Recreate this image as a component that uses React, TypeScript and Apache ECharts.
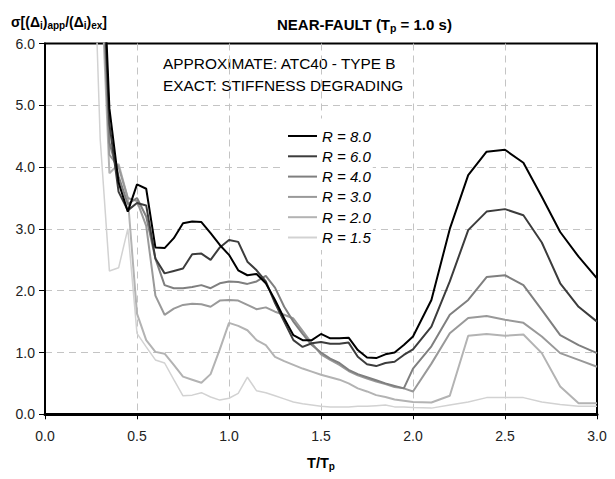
import React, { useEffect, useRef } from 'react';
import * as echarts from 'echarts';

// Period ratio T/Tp
const T = [0.25, 0.3, 0.35, 0.4, 0.45, 0.5, 0.55, 0.6, 0.65, 0.7, 0.75, 0.8, 0.85, 0.9, 0.95, 1.0, 1.05, 1.1, 1.15, 1.2, 1.25, 1.3, 1.35, 1.4, 1.45, 1.5, 1.55, 1.6, 1.65, 1.7, 1.75, 1.8, 1.85, 1.9, 1.95, 2.0, 2.1, 2.2, 2.3, 2.4, 2.5, 2.6, 2.7, 2.8, 2.9, 3.0];

const R80 = [14, 8.5, 4.95, 3.75, 3.28, 3.72, 3.65, 2.7, 2.69, 2.85, 3.09, 3.12, 3.11, 2.93, 2.74, 2.58, 2.33, 2.25, 2.27, 2.12, 1.85, 1.55, 1.28, 1.2, 1.2, 1.3, 1.23, 1.23, 1.24, 1.04, 0.92, 0.91, 0.97, 1.0, 1.12, 1.26, 1.85, 3.0, 3.87, 4.25, 4.28, 4.07, 3.52, 2.95, 2.55, 2.2];
const R60 = [14, 8.2, 4.7, 3.6, 3.3, 3.42, 3.38, 2.52, 2.28, 2.32, 2.36, 2.59, 2.6, 2.5, 2.7, 2.82, 2.79, 2.47, 2.33, 2.15, 1.8, 1.5, 1.2, 1.09, 1.15, 1.17, 1.14, 1.14, 1.16, 0.93, 0.81, 0.78, 0.83, 0.85, 0.96, 1.05, 1.42, 2.15, 2.98, 3.28, 3.32, 3.22, 2.78, 2.12, 1.74, 1.5];
const R40 = [13, 8, 4.4, 3.85, 3.4, 3.5, 3.2, 2.52, 2.09, 2.04, 2.04, 2.06, 2.09, 2.04, 2.12, 2.15, 2.14, 2.11, 2.15, 2.24, 2.05, 1.74, 1.5, 1.3, 1.12, 1.0, 0.9, 0.83, 0.72, 0.65, 0.6, 0.55, 0.5, 0.46, 0.42, 0.74, 1.1, 1.61, 1.85, 2.22, 2.25, 2.09, 1.69, 1.28, 1.12, 0.99];
const R30 = [12, 7.8, 4.2, 4.0, 3.5, 3.45, 3.05, 1.92, 1.61, 1.71, 1.77, 1.79, 1.78, 1.74, 1.84, 1.85, 1.84, 1.77, 1.7, 1.73, 1.66, 1.61, 1.55, 1.35, 1.15, 0.97, 0.88, 0.8, 0.7, 0.63, 0.58, 0.53, 0.49, 0.44, 0.42, 0.37, 0.82, 1.31, 1.56, 1.59, 1.53, 1.48, 1.26, 0.99, 0.88, 0.77];
const R20 = [11, 7.4, 3.9, 4.05, 3.5, 1.63, 1.2, 1.01, 0.98, 0.8, 0.61, 0.56, 0.51, 0.65, 1.05, 1.48, 1.43, 1.36, 1.2, 1.12, 0.93, 0.86, 0.8, 0.74, 0.69, 0.64, 0.6, 0.56, 0.5, 0.42, 0.37, 0.31, 0.28, 0.24, 0.22, 0.2, 0.19, 0.3, 1.27, 1.3, 1.27, 1.29, 0.99, 0.45, 0.18, 0.18];
const R15 = [9, 4.45, 2.32, 2.37, 3.0, 1.31, 1.09, 0.88, 0.83, 0.56, 0.3, 0.31, 0.35, 0.28, 0.23, 0.26, 0.34, 0.6, 0.38, 0.35, 0.3, 0.25, 0.2, 0.17, 0.15, 0.13, 0.12, 0.12, 0.12, 0.13, 0.13, 0.14, 0.15, 0.12, 0.12, 0.11, 0.1, 0.15, 0.2, 0.27, 0.27, 0.27, 0.2, 0.16, 0.13, 0.13];

const LEGEND_NAMES = ['R = 8.0', 'R = 6.0', 'R = 4.0', 'R = 3.0', 'R = 2.0', 'R = 1.5'];
const NOTE_LINES = ['APPROXIMATE: ATC40 - TYPE B', 'EXACT: STIFFNESS DEGRADING'];

const FONT = "'Liberation Sans', Arial, sans-serif";

export default function App() {
  const ref = useRef<HTMLDivElement>(null);

  useEffect(() => {
    document.body.style.margin = '0';
    const chart = echarts.init(ref.current!, null, { renderer: 'svg' });

    const defs = [
      { name: 'R = 1.5', values: R15, color: '#d2d2d2', width: 1.5 },
      { name: 'R = 2.0', values: R20, color: '#b3b3b3', width: 2 },
      { name: 'R = 3.0', values: R30, color: '#999999', width: 2 },
      { name: 'R = 4.0', values: R40, color: '#7f7f7f', width: 2 },
      { name: 'R = 6.0', values: R60, color: '#3c3c3c', width: 2 },
      { name: 'R = 8.0', values: R80, color: '#000000', width: 2 },
    ];

    const series = defs.map((d) => ({
      type: 'line',
      name: d.name,
      data: T.map((t, i) => [t, d.values[i]]),
      showSymbol: false,
      symbol: 'none',
      clip: true,
      color: d.color,
      itemStyle: { color: d.color },
      lineStyle: { color: d.color, width: d.width },
      emphasis: { disabled: true },
    }));

    const sub = { fontSize: 10, fontWeight: 'bold', fontFamily: FONT, lineHeight: 10, verticalAlign: 'bottom', fill: '#000', color: '#000' };
    const gridLine = { show: true, showMinLine: false, showMaxLine: false, lineStyle: { color: '#c4c4c4', width: 1, type: [7, 5] } };

    chart.setOption({
      animation: false,
      backgroundColor: '#ffffff',
      textStyle: { fontFamily: FONT },
      grid: { left: 45, top: 43.5, right: 18, bottom: 64.7, show: true, borderColor: '#000', borderWidth: 2, backgroundColor: 'transparent' },
      title: [
        {
          text: '{b|NEAR-FAULT (T}{s|p}{b| = 1.0 s)}',
          left: 277,
          top: 15,
          padding: 0,
          textStyle: {
            rich: {
              b: { fontSize: 15, fontWeight: 'bold', fontFamily: FONT, color: '#000', lineHeight: 18 },
              s: { ...sub, fontSize: 10.5 },
            },
          },
        },
        {
          text: '{b|σ[(Δ}{s|i}{b|)}{s|app}{b|/(Δ}{s|i}{b|)}{s|ex}{b|]}',
          left: 11,
          top: 13,
          padding: 0,
          textStyle: {
            rich: {
              b: { fontSize: 14, fontWeight: 'bold', fontFamily: FONT, color: '#000', lineHeight: 17 },
              s: { ...sub, fontSize: 10, lineHeight: 10 },
            },
          },
        },
      ],
      legend: {
        data: LEGEND_NAMES,
        orient: 'vertical',
        left: 283,
        top: 118.5,
        padding: [10, 2, 5, 5],
        backgroundColor: '#ffffff',
        icon: 'rect',
        itemWidth: 29,
        itemHeight: 2,
        itemGap: 5.3,
        selectedMode: false,
        textStyle: { fontSize: 15, fontStyle: 'italic', color: '#000', fontFamily: FONT, lineHeight: 15 },
      },
      xAxis: {
        type: 'value',
        min: 0,
        max: 3,
        interval: 0.5,
        axisLine: { show: true, lineStyle: { color: '#000', width: 3 } },
        axisTick: { show: true, length: 5, lineStyle: { color: '#000', width: 1 } },
        axisLabel: { margin: 15, fontSize: 14, color: '#222', fontFamily: FONT, formatter: (v: number) => v.toFixed(1) },
        splitLine: gridLine,
      },
      yAxis: {
        type: 'value',
        min: 0,
        max: 6,
        interval: 1,
        axisLine: { show: true, lineStyle: { color: '#000', width: 2 } },
        axisTick: { show: true, length: 6, lineStyle: { color: '#000', width: 1 } },
        axisLabel: { margin: 10, fontSize: 14, color: '#222', fontFamily: FONT, formatter: (v: number) => v.toFixed(1) },
        splitLine: gridLine,
      },
      graphic: [
        {
          type: 'text',
          x: 163,
          y: 63,
          style: { text: NOTE_LINES[0], fontSize: 15.4, fontFamily: FONT, fill: '#000', align: 'left', verticalAlign: 'middle' },
        },
        {
          type: 'text',
          x: 163,
          y: 85,
          style: { text: NOTE_LINES[1], fontSize: 15.4, fontFamily: FONT, fill: '#000', align: 'left', verticalAlign: 'middle' },
        },
        {
          type: 'text',
          x: 321,
          y: 463,
          style: {
            text: '{b|T/T}{s|p}',
            align: 'center',
            verticalAlign: 'middle',
            rich: {
              b: { fontSize: 14.5, fontWeight: 'bold', fontFamily: FONT, fill: '#000', lineHeight: 17 },
              s: { ...sub, fontSize: 10, lineHeight: 10 },
            },
          },
        },
      ],
      series,
    });

    return () => chart.dispose();
  }, []);

  return <div ref={ref} style={{ width: 615, height: 479 }} />;
}
